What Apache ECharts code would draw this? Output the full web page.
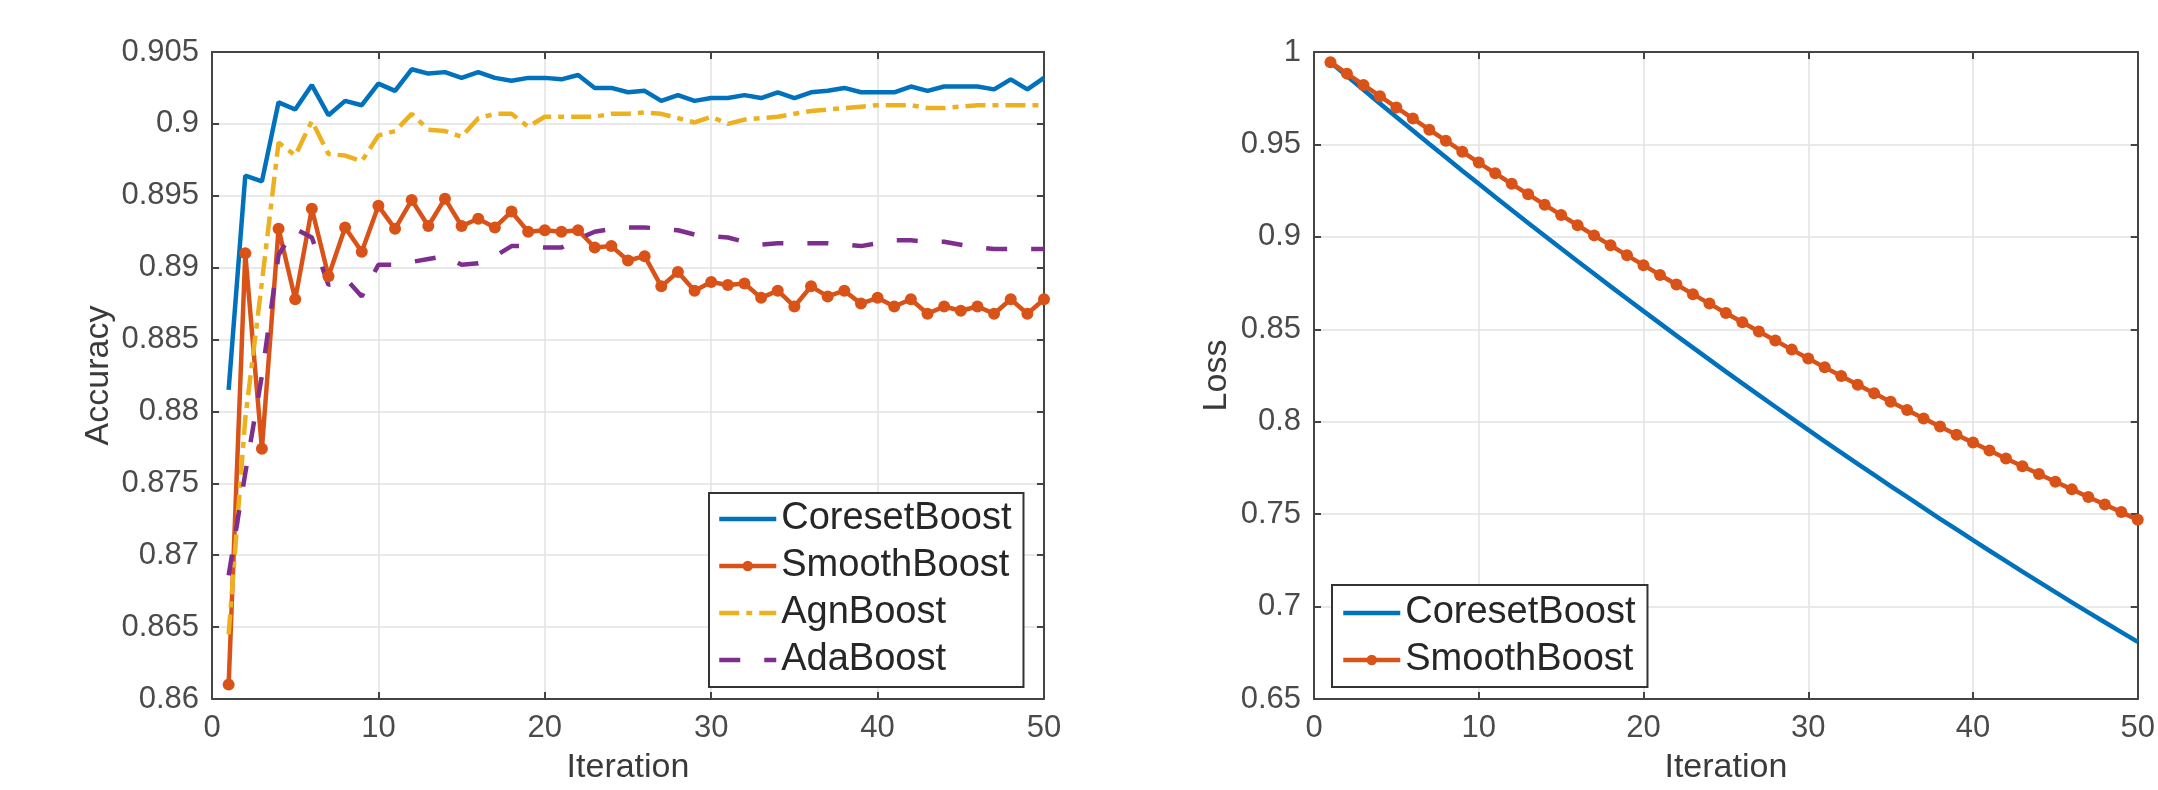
<!DOCTYPE html>
<html>
<head>
<meta charset="utf-8">
<script src="https://cdn.jsdelivr.net/npm/echarts@6/dist/echarts.min.js"></script>
<style>
  html, body { margin: 0; padding: 0; background: #ffffff; }
  #chart { width: 2158px; height: 790px; }
</style>
</head>
<body>
<div id="chart"></div>
<script>
// ---------- data ----------
const iterations = [1,2,3,4,5,6,7,8,9,10,11,12,13,14,15,16,17,18,19,20,21,22,23,24,25,
                    26,27,28,29,30,31,32,33,34,35,36,37,38,39,40,41,42,43,44,45,46,47,48,49,50];

const accCoresetBoost = [0.8815,0.8964,0.8960,0.9015,0.9010,0.9027,0.9006,0.9016,0.9013,0.9028,
  0.9023,0.9038,0.9035,0.9036,0.9032,0.9036,0.9032,0.9030,0.9032,0.9032,
  0.9031,0.9034,0.9025,0.9025,0.9022,0.9023,0.9016,0.9020,0.9016,0.9018,
  0.9018,0.9020,0.9018,0.9022,0.9018,0.9022,0.9023,0.9025,0.9022,0.9022,
  0.9022,0.9026,0.9023,0.9026,0.9026,0.9026,0.9024,0.9031,0.9024,0.9032];

const accSmoothBoost = [0.8610,0.8910,0.8774,0.8927,0.8878,0.8941,0.8894,0.8928,0.8911,0.8943,
  0.8927,0.8947,0.8929,0.8948,0.8929,0.8934,0.8928,0.8939,0.8925,0.8926,
  0.8925,0.8926,0.8914,0.8915,0.8905,0.8908,0.8887,0.8897,0.8884,0.8890,
  0.8888,0.8889,0.8879,0.8884,0.8873,0.8887,0.8880,0.8884,0.8875,0.8879,
  0.8873,0.8878,0.8868,0.8873,0.8870,0.8873,0.8868,0.8878,0.8868,0.8878];

const accAgnBoost = [0.8645,0.8795,0.8890,0.8987,0.8978,0.9002,0.8979,0.8978,0.8974,0.8992,
  0.8995,0.9007,0.8996,0.8995,0.8991,0.9004,0.9007,0.9007,0.8998,0.9005,
  0.9005,0.9005,0.9005,0.9007,0.9007,0.9008,0.9007,0.9004,0.9001,0.9005,
  0.9000,0.9003,0.9004,0.9005,0.9007,0.9009,0.9010,0.9011,0.9012,0.9013,
  0.9013,0.9013,0.9011,0.9011,0.9012,0.9013,0.9013,0.9013,0.9013,0.9013];

const accAdaBoost = [0.8686,0.8757,0.8825,0.8909,0.8927,0.8921,0.8888,0.8893,0.8880,0.8902,
  0.8902,0.8904,0.8906,0.8908,0.8902,0.8903,0.8908,0.8915,0.8915,0.8914,
  0.8914,0.8920,0.8925,0.8927,0.8928,0.8928,0.8927,0.8926,0.8923,0.8922,
  0.8921,0.8918,0.8916,0.8917,0.8917,0.8917,0.8917,0.8916,0.8915,0.8917,
  0.8919,0.8919,0.8918,0.8918,0.8916,0.8914,0.8913,0.8913,0.8913,0.8913];

const lossCoresetBoost = [0.9945,0.9870,0.9796,0.9721,0.9648,0.9575,0.9502,0.9430,0.9358,0.9287,
  0.9216,0.9145,0.9075,0.9006,0.8937,0.8868,0.8800,0.8732,0.8665,0.8598,
  0.8532,0.8466,0.8401,0.8336,0.8271,0.8207,0.8144,0.8081,0.8018,0.7956,
  0.7894,0.7833,0.7772,0.7712,0.7652,0.7593,0.7534,0.7475,0.7417,0.7359,
  0.7302,0.7246,0.7189,0.7134,0.7078,0.7023,0.6969,0.6915,0.6862,0.6809];

const lossSmoothBoost = [0.9945,0.9883,0.9822,0.9761,0.9700,0.9640,0.9580,0.9520,0.9461,0.9402,
  0.9344,0.9287,0.9230,0.9174,0.9118,0.9063,0.9008,0.8954,0.8900,0.8847,
  0.8794,0.8742,0.8690,0.8639,0.8588,0.8538,0.8488,0.8439,0.8390,0.8342,
  0.8294,0.8247,0.8200,0.8154,0.8108,0.8063,0.8018,0.7974,0.7930,0.7887,
  0.7844,0.7801,0.7759,0.7717,0.7675,0.7634,0.7593,0.7552,0.7511,0.7470];

const accLegend = ['CoresetBoost', 'SmoothBoost', 'AgnBoost', 'AdaBoost'];
const lossLegend = ['CoresetBoost', 'SmoothBoost'];
const markerSeries = ['SmoothBoost'];

// ---------- style ----------
const FONT = '"Liberation Sans", Arial, Helvetica, sans-serif';
const C_BLUE = '#0072BD', C_ORANGE = '#D95319', C_YELLOW = '#EDB120', C_PURPLE = '#7E2F8E';
const AXIS_COLOR = '#444444';
const LABEL_COLOR = '#4a4a4a';
const LW = 4.5;

function pairs(ys) { return iterations.map((x, i) => [x, ys[i]]); }
function fmt(v) { return String(+v.toFixed(3)); }

function mainX(grid) {
  return {
    type: 'value', gridIndex: grid, min: 0, max: 50, interval: 10, position: 'bottom',
    name: 'Iteration', nameLocation: 'middle', nameGap: 52,
    nameTextStyle: { fontFamily: FONT, fontSize: 34, color: '#3a3a3a' },
    axisLine: { show: true, onZero: false, lineStyle: { color: AXIS_COLOR, width: 2 } },
    axisTick: { show: true, inside: true, length: 7, lineStyle: { color: AXIS_COLOR, width: 2 } },
    axisLabel: { fontFamily: FONT, fontSize: 31, color: LABEL_COLOR, margin: 14 },
    splitLine: { show: true, lineStyle: { color: '#e2e2e2', width: 1.5 } }
  };
}
function topX(grid) {
  return {
    type: 'value', gridIndex: grid, min: 0, max: 50, interval: 10, position: 'top',
    axisLine: { show: true, onZero: false, lineStyle: { color: AXIS_COLOR, width: 2 } },
    axisTick: { show: true, inside: true, length: 7, lineStyle: { color: AXIS_COLOR, width: 2 } },
    axisLabel: { show: false }, splitLine: { show: false }
  };
}
function mainY(grid, min, max, interval, name, gap) {
  return {
    type: 'value', gridIndex: grid, min: min, max: max, interval: interval, position: 'left',
    name: name, nameLocation: 'middle', nameGap: gap, nameRotate: 90,
    nameTextStyle: { fontFamily: FONT, fontSize: 34, color: '#3a3a3a' },
    axisLine: { show: true, onZero: false, lineStyle: { color: AXIS_COLOR, width: 2 } },
    axisTick: { show: true, inside: true, length: 7, lineStyle: { color: AXIS_COLOR, width: 2 } },
    axisLabel: { fontFamily: FONT, fontSize: 31, color: LABEL_COLOR, margin: 13, formatter: fmt },
    splitLine: { show: true, lineStyle: { color: '#e2e2e2', width: 1.5 } }
  };
}
function rightY(grid, min, max, interval) {
  return {
    type: 'value', gridIndex: grid, min: min, max: max, interval: interval, position: 'right',
    axisLine: { show: true, onZero: false, lineStyle: { color: AXIS_COLOR, width: 2 } },
    axisTick: { show: true, inside: true, length: 7, lineStyle: { color: AXIS_COLOR, width: 2 } },
    axisLabel: { show: false }, splitLine: { show: false }
  };
}

function lineSeries(name, data, xi, yi, color, type, marker) {
  return {
    name: name, type: 'line', xAxisIndex: xi, yAxisIndex: yi, data: pairs(data),
    symbol: marker ? 'circle' : 'none', symbolSize: 12, showSymbol: !!marker,
    lineStyle: { color: color, width: LW, type: type },
    itemStyle: { color: color },
    animation: false
  };
}

function legendItems(names) {
  return names.map(n => markerSeries.indexOf(n) >= 0
    ? { name: n }
    : { name: n, itemStyle: { opacity: 0 } });
}

const legendCommon = {
  orient: 'vertical', backgroundColor: '#ffffff', borderColor: '#333333', borderWidth: 2,
  itemWidth: 57, itemHeight: 13, itemGap: 7, selectedMode: false,
  lineStyle: { width: 4.5 },
  textStyle: { fontFamily: FONT, fontSize: 38, color: '#262626', lineHeight: 40 }
};

const option = {
  backgroundColor: '#ffffff',
  animation: false,
  grid: [
    { left: 212, top: 52, width: 832, height: 652 },
    { left: 1314, top: 52, width: 831, height: 652 }
  ],
  xAxis: [ mainX(0), topX(0), mainX(1), topX(1) ],
  yAxis: [
    mainY(0, 0.86, 0.905, 0.005, 'Accuracy', 96),
    rightY(0, 0.86, 0.905, 0.005),
    mainY(1, 0.65, 1, 0.05, 'Loss', 80),
    rightY(1, 0.65, 1, 0.05)
  ],
  legend: [
    Object.assign({}, legendCommon, { data: legendItems(accLegend), left: 709, top: 493, padding: [6, 12, 7, 8] }),
    Object.assign({}, legendCommon, { data: legendItems(lossLegend), left: 1332, top: 585, padding: [8, 12, 7, 9] })
  ],
  series: [
    lineSeries('CoresetBoost', accCoresetBoost, 0, 0, C_BLUE, 'solid', false),
    lineSeries('SmoothBoost', accSmoothBoost, 0, 0, C_ORANGE, 'solid', true),
    lineSeries('AgnBoost', accAgnBoost, 0, 0, C_YELLOW, [20, 7, 6, 7], false),
    lineSeries('AdaBoost', accAdaBoost, 0, 0, C_PURPLE, [21, 24], false),
    lineSeries('CoresetBoost', lossCoresetBoost, 2, 2, C_BLUE, 'solid', false),
    lineSeries('SmoothBoost', lossSmoothBoost, 2, 2, C_ORANGE, 'solid', true)
  ]
};

const chart = echarts.init(document.getElementById('chart'), null, { renderer: 'canvas' });
chart.setOption(option);
</script>
</body>
</html>
